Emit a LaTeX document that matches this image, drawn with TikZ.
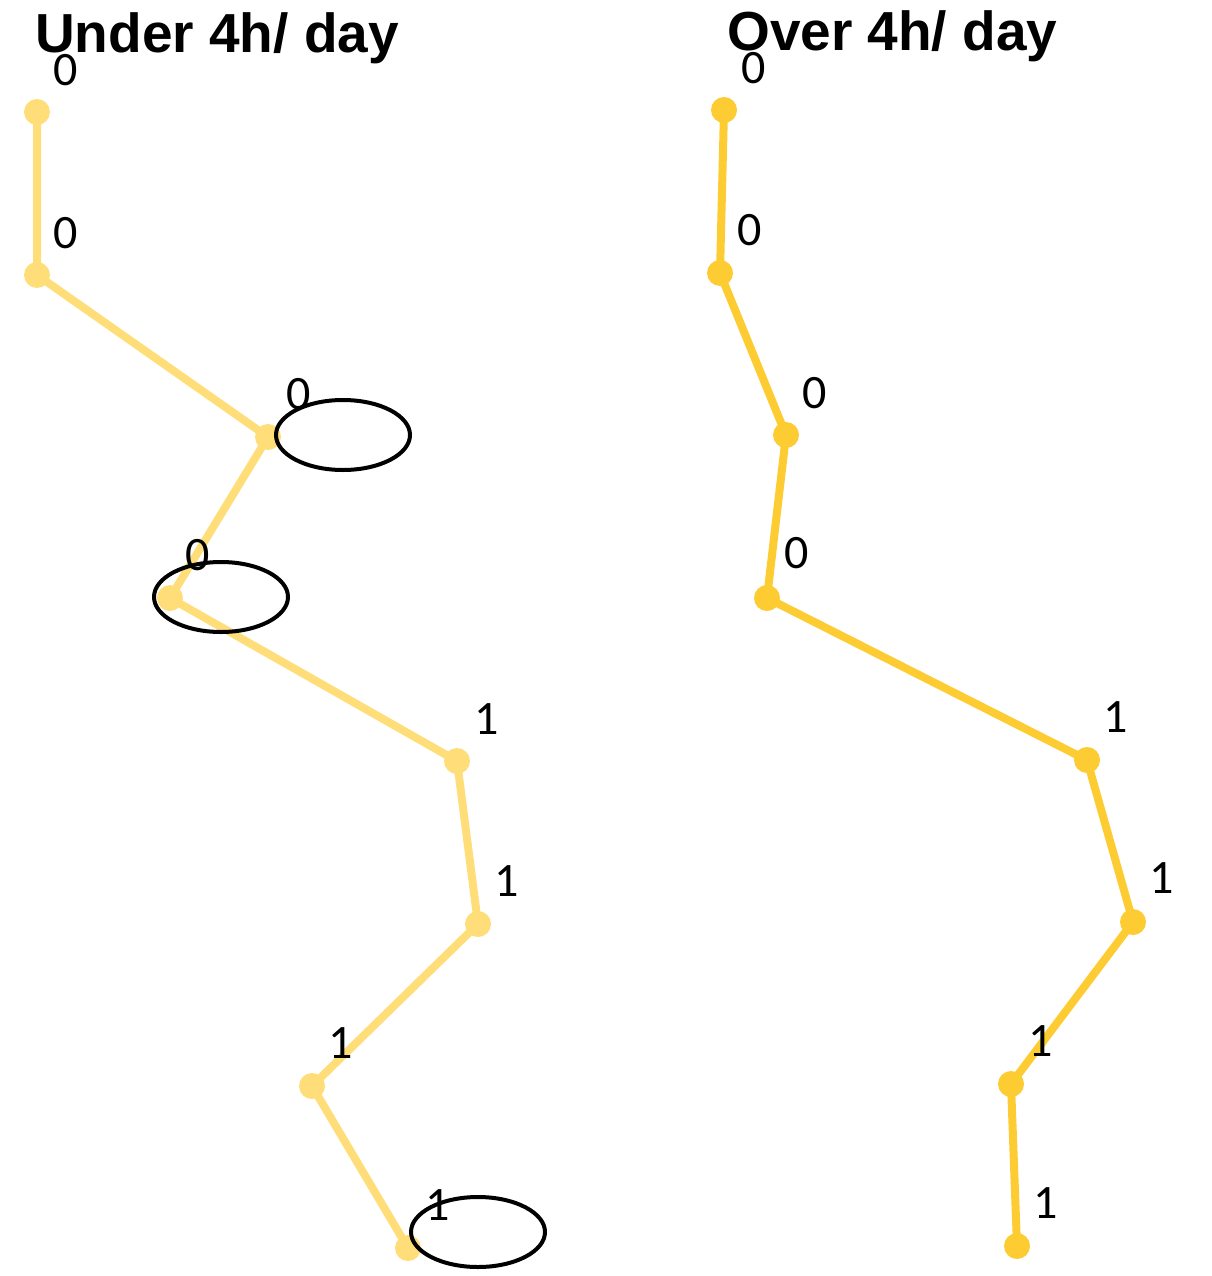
\documentclass[tikz,border=0pt]{standalone}
\usepackage{fontspec}
\setmainfont{Liberation Sans}
\newfontfamily\labfont{Carlito}
\definecolor{lighty}{RGB}{255,222,122}
\definecolor{darky}{RGB}{253,203,50}
\begin{document}
\begin{tikzpicture}[x=1pt,y=-1pt,
  dotL/.style={circle,fill=lighty,inner sep=0pt,minimum size=26pt},
  dotR/.style={circle,fill=darky,inner sep=0pt,minimum size=26pt},
  lineL/.style={draw=lighty,line width=8pt},
  lineR/.style={draw=darky,line width=8pt},
  lab/.style={font=\labfont\fontsize{48}{52}\selectfont,inner sep=0pt,anchor=center},
  ttl/.style={font=\bfseries\fontsize{55}{60}\selectfont,inner sep=0pt,anchor=base west},
  ring/.style={draw=black,line width=4pt}]
\useasboundingbox (0,0) rectangle (1211,1276);
% left coordinates
\coordinate (L1) at (37,112);
\coordinate (L2) at (37,275);
\coordinate (L3) at (268,437);
\coordinate (L4) at (170,598);
\coordinate (L5) at (457,761);
\coordinate (L6) at (478,924);
\coordinate (L7) at (312,1086);
\coordinate (L8) at (408,1248);
% right coordinates
\coordinate (R1) at (724,110);
\coordinate (R2) at (720,273);
\coordinate (R3) at (786,435);
\coordinate (R4) at (767,598);
\coordinate (R5) at (1087,760);
\coordinate (R6) at (1133,922);
\coordinate (R7) at (1011,1084);
\coordinate (R8) at (1017,1246);
% titles
\node[ttl] (tL) at (35,53) {Under 4h/ day};
\node[ttl] (tR) at (727,51) {Over 4h/ day};
% lines
\draw[lineL] (L1) -- (L2) -- (L3) -- (L4) -- (L5) -- (L6) -- (L7) -- (L8);
\draw[lineR] (R1) -- (R2) -- (R3) -- (R4) -- (R5) -- (R6) -- (R7) -- (R8);
% dots
\foreach \n in {1,...,8} {
  \node[dotL] (dL\n) at (L\n) {};
  \node[dotR] (dR\n) at (R\n) {};
}
% labels
\node[lab] (lL1) at ([shift={(29,-42)}]L1) {0};
\node[lab] (lL2) at ([shift={(29,-42)}]L2) {0};
\node[lab] (lL3) at ([shift={(31,-43)}]L3) {0};
\node[lab] (lL4) at ([shift={(28,-43)}]L4) {0};
\node[lab] (lL5) at ([shift={(30,-42)}]L5) {1};
\node[lab] (lL6) at ([shift={(29,-43)}]L6) {1};
\node[lab] (lL7) at ([shift={(29,-43)}]L7) {1};
\node[lab] (lL8) at ([shift={(30,-43)}]L8) {1};
\node[lab] (lR1) at ([shift={(30,-42)}]R1) {0};
\node[lab] (lR2) at ([shift={(30,-43)}]R2) {0};
\node[lab] (lR3) at ([shift={(29,-42)}]R3) {0};
\node[lab] (lR4) at ([shift={(30,-45)}]R4) {0};
\node[lab] (lR5) at ([shift={(29,-43)}]R5) {1};
\node[lab] (lR6) at ([shift={(29,-44)}]R6) {1};
\node[lab] (lR7) at ([shift={(30,-43)}]R7) {1};
\node[lab] (lR8) at ([shift={(29,-43)}]R8) {1};
% ellipses
\draw[ring] (343,435) ellipse [x radius=67, y radius=35];
\draw[ring] (221,597) ellipse [x radius=67, y radius=35];
\draw[ring] (478,1232) ellipse [x radius=67, y radius=35];
\end{tikzpicture}
\end{document}
